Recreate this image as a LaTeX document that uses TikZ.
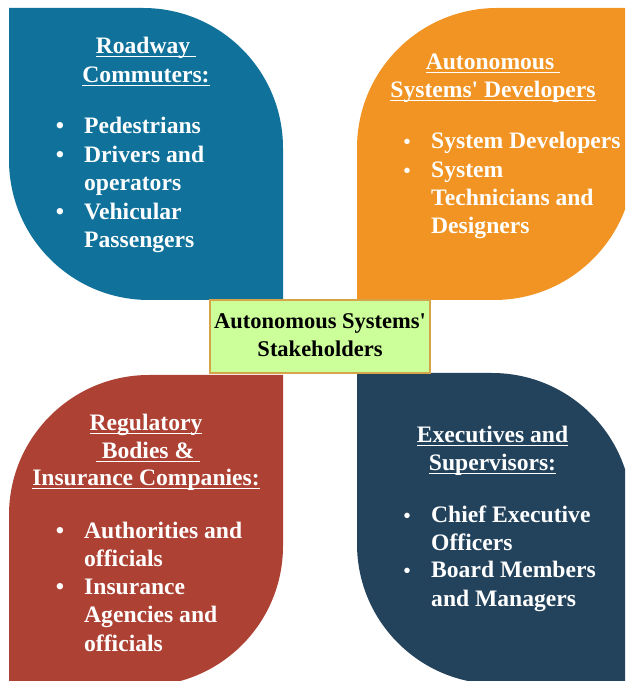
\documentclass[tikz,border=0pt]{standalone}
\usepackage{fontspec}
\setmainfont{Liberation Serif}[Ligatures=TeXOff]
\definecolor{blueC}{HTML}{10729B}
\definecolor{orangeC}{HTML}{F19423}
\definecolor{redC}{HTML}{AD4134}
\definecolor{navyC}{HTML}{23435D}
\definecolor{boxFill}{HTML}{CCFF99}
\definecolor{boxLine}{HTML}{D6A54A}
\newcommand\myul[1]{\setbox0=\hbox{#1}\rlap{\rule[-3pt]{\wd0}{1.3pt}}\box0}
\tikzset{
  head/.style={anchor=base, text=white, inner sep=0pt, font=\bfseries\fontsize{23.6}{28}\selectfont},
  item/.style={anchor=base west, text=white, inner sep=0pt, font=\bfseries\fontsize{23.6}{28}\selectfont},
  bigdot/.style={anchor=base, text=white, inner sep=0pt, font=\bfseries\fontsize{23.6}{28}\selectfont},
  smalldot/.style={anchor=base, text=white, inner sep=0pt, font=\bfseries\fontsize{20}{24}\selectfont},
  hubbox/.style={draw=boxLine, line width=1.5pt, fill=boxFill, minimum width=220pt, minimum height=73pt, inner sep=0pt},
  hubtext/.style={anchor=base, text=black, inner sep=0pt, font=\bfseries\fontsize{22.5}{28}\selectfont}
}
\begin{document}
\begin{tikzpicture}[x=1pt,y=1pt]
\useasboundingbox (0,0) rectangle (625,681);
\clip (0,0) rectangle (625,681);
% petals
\fill[blueC] (9,673) -- (143,673) arc[start angle=90,end angle=0,radius=140pt] -- (283,381) -- (149,381) arc[start angle=270,end angle=180,radius=140pt] -- cycle;
\fill[orangeC] (357,381) -- (357,533) arc[start angle=180,end angle=90,radius=140pt] -- (634,673) -- (634,521) arc[start angle=0,end angle=-90,radius=140pt] -- cycle;
\fill[redC] (9,-5) -- (9,166) arc[start angle=180,end angle=90,radius=140pt] -- (283,306) -- (283,135) arc[start angle=0,end angle=-90,radius=140pt] -- cycle;
\fill[navyC] (357,308) -- (492,308) arc[start angle=90,end angle=0,radius=140pt] -- (632,-3) -- (497,-3) arc[start angle=270,end angle=180,radius=140pt] -- cycle;
% hub
\node[hubbox] (hub) at (320,344.5) {};
\node[hubtext] (hub1) at (320,352) {Autonomous Systems'};
\node[hubtext] (hub2) at (320,324) {Stakeholders};
% blue
\node[head] (bh1) at (146,627) {\myul{Roadway\ }};
\node[head] (bh2) at (146,598) {\myul{Commuters:}};
\node[bigdot] (bd1) at (60,547) {\textbullet};
\node[item] (bi1) at (84,547) {Pedestrians};
\node[bigdot] (bd2) at (60,518) {\textbullet};
\node[item] (bi2a) at (84,518) {Drivers and};
\node[item] (bi2b) at (84,490) {operators};
\node[bigdot] (bd3) at (60,461) {\textbullet};
\node[item] (bi3a) at (84,461) {Vehicular};
\node[item] (bi3b) at (84,433) {Passengers};
% orange
\node[head] (oh1) at (493,611) {\myul{Autonomous\ }};
\node[head] (oh2) at (493,583) {\myul{Systems' Developers}};
\node[smalldot] (od1) at (407,532) {\textbullet};
\node[item] (oi1) at (431,532) {System Developers};
\node[smalldot] (od2) at (407,503) {\textbullet};
\node[item] (oi2a) at (431,503) {System};
\node[item] (oi2b) at (431,475) {Technicians and};
\node[item] (oi2c) at (431,447) {Designers};
% red
\node[head] (rh1) at (146,250) {\myul{Regulatory}};
\node[head] (rh2) at (148,222) {\myul{\ Bodies \&\ }};
\node[head] (rh3) at (146,195) {\myul{Insurance Companies:}};
\node[bigdot] (rd1) at (60,142) {\textbullet};
\node[item] (ri1a) at (84,142) {Authorities and};
\node[item] (ri1b) at (84,114) {officials};
\node[bigdot] (rd2) at (60,86) {\textbullet};
\node[item] (ri2a) at (84,86) {Insurance};
\node[item] (ri2b) at (84,58) {Agencies and};
\node[item] (ri2c) at (84,30) {officials};
% navy
\node[head] (nh1) at (492.5,238) {\myul{Executives and}};
\node[head] (nh2) at (492.5,210) {\myul{Supervisors:}};
\node[smalldot] (nd1) at (407,158) {\textbullet};
\node[item] (ni1a) at (431,158) {Chief Executive};
\node[item] (ni1b) at (431,130) {Officers};
\node[smalldot] (nd2) at (407,103) {\textbullet};
\node[item] (ni2a) at (431,103) {Board Members};
\node[item] (ni2b) at (431,74) {and Managers};
\end{tikzpicture}
\end{document}
